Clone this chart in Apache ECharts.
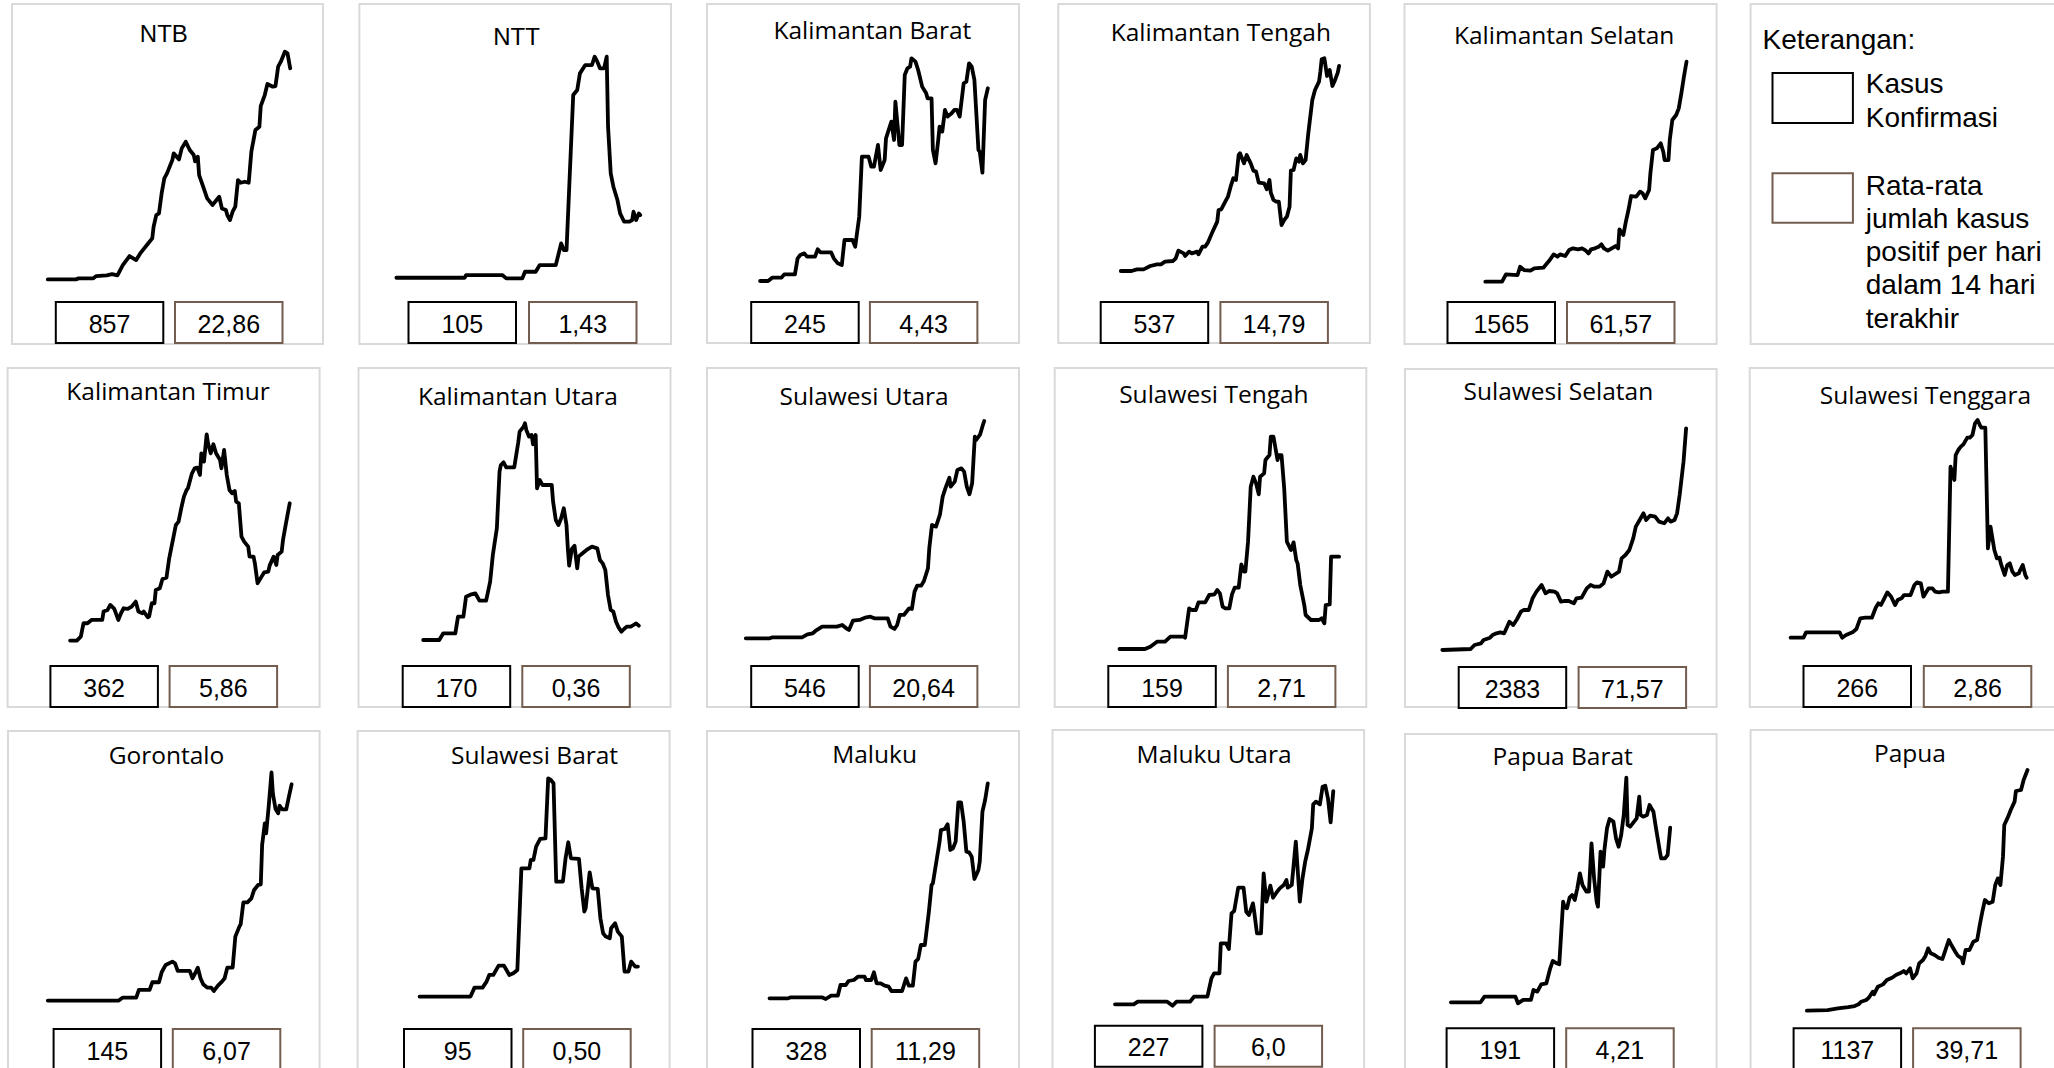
<!DOCTYPE html>
<html><head><meta charset="utf-8">
<script src="https://cdn.jsdelivr.net/npm/echarts/dist/echarts.min.js"></script>
<style>html,body{margin:0;padding:0;background:#fff;overflow:hidden}#c{width:2054px;height:1068px}</style>
</head><body><div id="c"></div>
<script>
// ---------- DATA ----------
const provinces = ['NTB','NTT','Kalimantan Barat','Kalimantan Tengah','Kalimantan Selatan','Kalimantan Timur','Kalimantan Utara','Sulawesi Utara','Sulawesi Tengah','Sulawesi Selatan','Sulawesi Tenggara','Gorontalo','Sulawesi Barat','Maluku','Maluku Utara','Papua Barat','Papua'];
const kasusKonfirmasi = [857,105,245,537,1565,362,170,546,159,2383,266,145,95,328,227,191,1137];
const rataRata = ['22,86','1,43','4,43','14,79','61,57','5,86','0,36','20,64','2,71','71,57','2,86','6,07','0,50','11,29','6,0','4,21','39,71'];

// [day, value]
const ntb = [[0,0],[21,0],[23,0.3],[34,0.3],[36,1.0],[44,1.2],[48,1.6],[52,1.2],[56,4.3],[61,7.0],[66,5.8],[69,7.8],[74,10.3],[78,12.3],[79,15.8],[81,19.3],[83,19.8],[85,25.8],[87,30.3],[89,31.8],[93,35.8],[94,37.8],[98,36.0],[100,39.3],[103,41.3],[106,38.8],[109,37.3],[110,35.4],[112,36.8],[113,31.3],[116,27.8],[119,24.3],[123,22.3],[126,23.8],[128,24.8],[130,21.3],[133,20.8],[134,19.3],[136,17.8],[138,20.3],[140,21.8],[142,29.8],[144,29.0],[147,29.3],[150,29.0],[152,38.3],[155,44.8],[158,45.8],[159,52.0],[162,55.3],[164,58.6],[168,57.8],[170,58.0],[172,63.8],[174,65.3],[177,68.3],[179,67.8],[181,63.3]];
const ntt = [[0,0.2],[51,0.2],[52,1.0],[79,1.0],[82,0],[94,0],[96,2.0],[104,2.0],[107,4.0],[119,4.0],[123,10.5],[125,8.5],[127,8.5],[130,36.5],[132,55.0],[135,56.5],[137,61.5],[141,64.0],[146,64.0],[148,66.5],[150,65.0],[152,63.0],[155,63.0],[157,66.5],[158,45.5],[160,31.5],[162,27.5],[165,23.5],[167,19.5],[170,17.0],[174,17.0],[176,17.5],[177,20.0],[179,17.5],[181,19.5],[182,19.0]];
const kalbar = [[0,0],[6,0],[9,1.0],[16,1.0],[18,2.0],[26,2.0],[28,6.8],[30,7.8],[33,8.3],[35,7.3],[41,7.3],[43,9.5],[45,8.6],[53,8.6],[55,6.8],[58,5.3],[61,4.8],[63,12.3],[69,12.3],[71,10.3],[74,19.3],[76,37.3],[81,37.3],[83,34.3],[85,34.3],[88,40.8],[90,33.3],[93,36.3],[94,42.8],[98,47.8],[100,42.3],[101,53.8],[104,40.8],[106,40.8],[108,61.8],[110,63.8],[112,64.3],[113,66.8],[116,65.8],[118,63.3],[121,58.3],[124,56.3],[125,54.8],[128,54.8],[129,39.3],[131,35.3],[133,42.3],[134,46.3],[136,44.8],[138,51.3],[140,49.3],[143,50.3],[145,51.3],[147,51.3],[149,49.3],[152,59.3],[154,59.8],[156,65.3],[158,64.3],[160,60.3],[163,39.3],[164,38.8],[166,32.5],[168,54.3],[170,57.8]];
const kalteng = [[0,0],[8,0],[12,0.5],[17,0.5],[22,1.5],[27,2.0],[30,2.0],[33,2.8],[39,3.0],[41,3.8],[43,6.1],[47,5.3],[48,4.5],[51,5.8],[53,5.3],[57,5.8],[58,5.0],[61,7.3],[63,7.3],[65,8.5],[68,11.3],[72,14.8],[73,18.3],[75,18.5],[78,20.8],[80,22.3],[82,25.3],[84,27.8],[86,27.3],[88,34.8],[89,35.3],[92,32.3],[94,34.8],[97,32.3],[99,30.1],[101,29.8],[103,26.5],[107,26.3],[109,24.5],[111,27.3],[112,23.5],[114,21.3],[116,20.8],[118,20.8],[120,13.8],[122,15.3],[124,16.3],[126,19.3],[127,30.1],[129,30.3],[131,33.8],[133,32.8],[134,34.8],[136,32.3],[138,33.3],[140,41.3],[143,51.3],[145,54.3],[148,56.8],[149,59.8],[150,63.5],[152,63.8],[154,58.5],[156,60.3],[158,55.5],[160,57.3],[162,59.5],[163,61.5]];
const kalsel = [[0,0],[13,0],[16,2.2],[25,2.0],[27,4.5],[30,3.5],[35,3.3],[38,4.0],[45,4.2],[50,6.5],[53,8.2],[56,7.5],[58,8.2],[62,7.7],[65,9.5],[68,10.0],[72,9.7],[75,10.0],[78,9.3],[80,8.5],[82,9.7],[85,10.0],[88,10.5],[90,11.2],[92,10.0],[95,9.3],[98,10.0],[101,10.7],[103,10.0],[104,15.7],[107,14.0],[109,18.0],[111,21.5],[113,25.7],[117,25.5],[120,27.0],[122,26.5],[124,25.0],[127,27.5],[128,32.5],[130,39.5],[133,40.0],[136,41.5],[138,39.0],[139,36.5],[142,36.5],[143,42.5],[145,48.5],[148,50.0],[150,52.0],[152,56.5],[154,61.5],[156,66.0]];
const kaltim = [[0,0],[5,0],[8,1.2],[10,5.2],[13,5.2],[16,6.2],[24,6.2],[25,8.7],[28,9.2],[30,10.7],[33,9.5],[36,6.2],[38,8.2],[40,9.7],[43,9.5],[46,10.2],[49,11.7],[51,8.7],[54,8.2],[55,8.7],[58,7.0],[59,7.2],[61,11.2],[63,11.2],[64,15.2],[67,15.7],[69,18.5],[72,18.9],[74,24.7],[77,30.7],[79,34.7],[81,35.7],[83,39.7],[85,43.2],[87,45.2],[88,45.7],[91,50.2],[93,51.7],[95,51.9],[97,49.7],[98,56.2],[100,53.7],[102,61.9],[103,59.2],[105,56.2],[107,58.9],[109,56.2],[112,54.2],[113,51.7],[115,57.2],[117,49.7],[119,45.2],[121,44.2],[123,44.9],[124,41.7],[126,41.2],[128,31.2],[130,29.7],[133,28.2],[134,25.2],[137,25.2],[138,23.2],[140,17.2],[143,19.2],[145,20.5],[148,20.7],[149,22.5],[152,25.2],[154,22.7],[155,25.7],[158,26.7],[159,30.2],[161,34.7],[164,41.2]];
const kalut = [[0,0],[12,0],[15,2.0],[24,2.0],[26,7.0],[30,7.0],[32,13.0],[36,13.7],[39,14.0],[42,11.8],[47,11.8],[50,17.5],[52,25.5],[55,33.5],[57,50.5],[58,52.5],[60,53.3],[62,51.8],[68,51.8],[71,59.3],[72,62.5],[75,64.0],[76,65.0],[77,63.0],[79,61.0],[81,61.5],[82,58.7],[84,61.5],[85,45.5],[87,48.0],[89,46.5],[96,46.5],[97,41.5],[99,36.0],[101,34.5],[103,36.5],[105,39.5],[107,34.5],[108,27.5],[109,22.3],[111,27.3],[113,28.3],[115,21.5],[116,25.0],[119,26.0],[122,27.0],[126,28.0],[130,27.5],[132,24.0],[134,23.0],[136,21.0],[138,13.5],[140,9.0],[142,8.5],[144,5.5],[146,3.7],[148,2.5],[150,3.3],[152,4.0],[155,4.0],[157,4.5],[159,5.0],[161,4.3]];
const sulut = [[0,0],[18,0],[20,0.3],[42,0.3],[46,1.2],[50,1.5],[52,2.2],[57,3.5],[68,3.5],[72,4.0],[75,3.0],[77,2.5],[80,5.3],[85,5.5],[88,6.0],[90,6.3],[93,6.5],[96,6.0],[106,6.0],[108,3.5],[111,2.8],[113,4.0],[115,7.0],[118,7.0],[122,9.0],[124,8.8],[126,14.0],[128,15.8],[131,15.8],[133,17.2],[136,21.0],[137,27.0],[139,34.0],[142,33.5],[145,37.2],[147,42.5],[149,45.0],[152,48.2],[153,45.5],[156,47.0],[158,50.5],[161,51.0],[163,50.0],[165,45.5],[167,43.2],[169,46.5],[171,60.5],[172,59.5],[175,61.2],[177,64.0],[178,65.2]];
const sulteng = [[0,0],[19,0],[23,0.7],[28,2.2],[34,2.2],[38,3.7],[48,3.7],[49,3.4],[52,12.2],[54,11.7],[57,11.7],[59,14.0],[64,14.0],[67,16.2],[71,16.4],[73,17.7],[75,16.7],[77,12.7],[79,12.2],[82,12.2],[84,16.4],[86,18.4],[89,18.4],[91,25.4],[93,23.2],[94,23.2],[96,32.2],[98,48.7],[100,51.7],[102,49.7],[104,46.4],[105,51.7],[108,52.7],[109,56.7],[112,58.2],[113,63.7],[115,63.7],[118,56.7],[119,58.2],[121,58.2],[123,48.2],[125,32.2],[128,29.7],[130,32.0],[132,26.7],[133,25.7],[135,19.2],[138,13.2],[139,10.2],[143,8.7],[149,8.7],[151,9.2],[153,7.7],[154,13.2],[157,13.4],[158,27.7],[164,27.7]];
const sulsel = [[0,0],[22,0.3],[25,1.5],[30,2.0],[32,3.0],[37,3.7],[39,4.5],[42,5.0],[45,5.3],[48,5.0],[52,8.5],[55,7.5],[58,9.3],[61,11.5],[63,12.0],[67,12.0],[70,15.5],[73,17.5],[77,19.5],[80,17.0],[83,17.7],[87,17.5],[89,17.0],[92,14.5],[95,14.7],[98,14.7],[102,14.0],[104,15.5],[108,15.7],[112,18.5],[115,19.5],[118,19.0],[122,19.0],[125,20.0],[128,23.5],[131,22.0],[133,22.5],[137,23.5],[139,27.5],[142,28.5],[145,30.0],[148,33.5],[150,37.0],[153,39.0],[156,41.0],[158,39.0],[161,40.3],[165,40.0],[168,38.5],[172,38.0],[175,39.5],[177,38.5],[180,39.0],[182,41.0],[184,46.5],[187,56.5],[189,66.5]];
const sultra = [[0,0],[10,0],[12,1.6],[38,1.6],[40,0],[43,0.8],[48,1.6],[51,2.6],[54,5.8],[58,6.0],[63,6.0],[66,9.0],[68,10.3],[70,9.8],[72,11.3],[75,13.6],[78,12.3],[81,9.8],[83,11.3],[86,11.8],[88,12.8],[93,12.8],[96,15.8],[98,16.6],[101,16.3],[103,12.3],[107,14.8],[110,14.8],[112,13.8],[115,13.6],[118,13.8],[122,13.8],[124,51.3],[127,47.3],[128,54.8],[130,56.3],[132,57.3],[134,58.0],[137,60.0],[139,60.0],[141,60.8],[143,64.3],[145,65.3],[147,63.6],[148,63.0],[151,63.0],[153,26.8],[155,33.3],[158,26.3],[160,23.8],[162,24.0],[163,22.3],[166,18.8],[168,21.8],[170,22.3],[172,19.8],[174,18.8],[177,19.3],[178,20.3],[180,21.8],[182,18.8],[183,18.0]];
const gorontalo = [[0,0],[53,0],[56,0.9],[66,0.9],[68,3.2],[76,3.2],[78,5.5],[83,5.5],[85,8.5],[88,10.7],[93,11.7],[95,11.2],[97,8.9],[106,8.9],[108,6.7],[110,8.2],[112,9.9],[114,6.7],[116,4.9],[119,3.9],[122,3.9],[124,2.9],[127,4.5],[130,5.7],[132,6.7],[134,9.9],[138,9.9],[140,19.2],[143,22.2],[144,22.9],[146,29.5],[149,29.5],[152,30.7],[154,33.2],[157,34.7],[159,34.9],[160,46.7],[162,53.2],[163,50.2],[165,58.7],[167,68.5],[168,62.2],[170,57.5],[172,56.2],[173,58.5],[175,57.4],[178,57.4],[180,61.2],[182,64.9]];
const sulbar = [[0,0],[38,0],[41,2.7],[47,2.7],[50,4.5],[52,6.5],[55,6.5],[59,9.3],[63,9.3],[67,6.5],[70,7.0],[73,8.0],[76,38.5],[82,38.5],[83,41.0],[85,41.0],[87,45.0],[90,47.3],[94,47.5],[96,65.5],[98,65.0],[100,64.0],[102,34.5],[107,34.5],[109,41.5],[111,46.3],[113,41.5],[119,41.3],[121,32.5],[123,25.5],[124,26.5],[127,37.3],[129,32.5],[133,32.3],[135,23.5],[137,19.0],[139,18.0],[142,17.5],[143,20.5],[146,22.0],[148,19.5],[151,18.0],[153,7.5],[156,7.5],[158,10.5],[161,9.0],[163,9.0]];
const maluku = [[0,0.2],[14,0.2],[16,0.5],[39,0.5],[42,0],[46,1.0],[51,1.0],[53,4.2],[57,4.2],[59,5.4],[63,5.7],[66,6.7],[71,6.7],[72,5.7],[76,5.7],[78,8.0],[80,4.7],[83,4.7],[86,4.0],[89,3.7],[91,2.4],[99,2.4],[102,6.2],[104,4.0],[107,4.0],[109,11.2],[111,12.0],[113,16.2],[116,16.2],[119,26.2],[121,34.2],[122,34.7],[125,42.2],[127,47.2],[128,50.7],[131,51.0],[133,52.4],[135,44.7],[137,45.2],[139,47.2],[141,59.0],[143,59.0],[145,53.2],[147,44.2],[149,44.0],[151,42.7],[153,36.0],[156,38.7],[157,41.2],[159,56.2],[161,59.7],[163,64.7]];
const malut = [[0,0.4],[14,0.4],[17,1.2],[39,1.2],[43,0],[46,1.2],[56,1.2],[59,2.7],[69,2.7],[72,8.2],[74,9.7],[78,9.7],[79,18.7],[83,18.7],[85,17.0],[87,27.7],[89,28.4],[92,35.4],[96,35.4],[98,28.2],[100,27.2],[103,30.7],[104,28.0],[106,21.7],[109,21.7],[111,39.7],[113,31.2],[116,36.0],[118,32.4],[121,34.2],[123,35.2],[126,36.2],[128,37.7],[129,35.4],[132,36.2],[135,49.2],[138,31.2],[140,38.2],[142,43.2],[144,46.7],[147,53.2],[148,60.4],[150,61.2],[153,60.4],[155,65.7],[157,66.0],[159,62.2],[161,55.0],[163,64.4]];
const papbar = [[0,0.3],[23,0.3],[26,2.0],[50,2.0],[52,0],[56,1.0],[62,1.0],[64,4.0],[67,3.5],[70,5.7],[74,6.0],[77,10.5],[79,12.7],[82,12.0],[84,11.7],[87,30.5],[88,29.0],[90,28.5],[92,31.7],[94,32.5],[96,31.0],[98,34.5],[100,39.0],[102,35.5],[105,33.5],[107,33.5],[109,48.0],[111,37.5],[113,30.5],[114,29.0],[116,45.5],[118,41.0],[119,46.0],[121,52.5],[123,55.3],[126,54.5],[128,49.5],[130,47.0],[132,50.5],[134,56.5],[136,67.7],[137,53.5],[139,53.0],[142,54.5],[144,55.5],[146,62.0],[147,56.5],[149,56.0],[152,56.5],[154,59.5],[157,57.5],[159,52.5],[162,45.5],[163,43.5],[166,43.5],[168,44.5],[170,52.7]];
const papua = [[0,0],[16,0.2],[24,0.7],[32,1.1],[37,1.4],[40,1.9],[42,2.7],[46,3.2],[48,3.9],[51,5.7],[52,4.9],[55,7.2],[59,7.9],[62,9.2],[66,9.9],[69,10.7],[72,11.2],[75,11.9],[77,11.2],[80,12.7],[82,9.7],[85,11.2],[87,14.2],[90,15.2],[92,16.5],[94,18.7],[96,17.2],[99,16.7],[102,15.9],[105,15.5],[107,17.7],[110,21.2],[112,19.7],[115,17.7],[117,16.5],[120,15.7],[121,14.2],[123,18.2],[126,18.2],[129,20.7],[132,21.2],[134,25.7],[136,29.7],[138,33.2],[141,32.2],[144,32.7],[146,37.7],[148,39.7],[150,37.7],[152,46.2],[153,55.7],[156,58.2],[158,60.2],[161,62.7],[162,65.9],[166,66.2],[168,69.2],[171,72.2]];

const seriesData = [ntb,ntt,kalbar,kalteng,kalsel,kaltim,kalut,sulut,sulteng,sulsel,sultra,gorontalo,sulbar,maluku,malut,papbar,papua];

// ---------- LAYOUT (positions only) ----------
const gridRects = [
 [47.8,51.7,242.4,227.7],[396.4,56.7,243.8,221.7],[760.1,58.3,227.7,222.7],[1120.8,58.3,218.3,212.7],[1485.3,61.7,201.2,220],
 [70.1,434.3,219.6,206.3],[423.2,423.3,215.6,216.7],[745.8,421,238.4,217.3],[1119.5,436.7,219.6,212.3],[1442.3,428.3,243.8,221.7],[1790.6,420,236,217.7],
 [47.8,772.3,243.8,228.3],[419.6,778.3,218.3,218.3],[769.5,783.3,218.3,215.7],[1115,785.7,218.3,220],[1450.9,777.7,219.3,225.6],[1806.9,770,220.6,240.7]
];
const panelRects = [
 [12,4,311,340],[359.4,4,311.6,340],[707,4,312,339],[1058.3,4,311.6,339],[1404.5,4,312.1,340],[1750.6,4,400,340],
 [7.6,368,312,339],[358.5,368,312,339],[707,368,312,339],[1054.7,368,311.6,339],[1405,369,311.6,338],[1749.7,368,400,339],
 [8,731,311.6,400],[357.6,731,312,400],[707,731,312,400],[1052.5,730,311.6,400],[1405,734,311.6,400],[1750.6,730,400,400]
];
const titlePos = [[163.8,33.5],[516.5,36.8],[872.4,29],[1220.8,31],[1564.2,34],[168.1,390],[517.9,395],[864.1,395],[1213.9,393.5],[1558.4,390],[1925.4,394],[166.5,754],[534.6,754],[874.6,753],[1214.1,753],[1562.7,755],[1909.9,752]];
const boxPos = [[55.8,175,302],[408.5,529,302],[751.2,869.9,302],[1100.7,1220.4,302],[1447.5,1567,302],
 [50.4,169.6,666],[402.7,522.3,666],[751.2,869.9,666],[1108.3,1227.9,666],[1458.7,1578.6,667],[1803.5,1923.8,666],
 [53.6,172.8,1029],[404,523.2,1029],[752.5,871.7,1029],[1094.9,1214.6,1025.7],[1446.6,1566.2,1028.3],[1793.6,1913.1,1028.3]];
const BOX_W = 107.5, BOX_H = 41;
const BROWN = '#735d4f';
const ARIAL = '"Liberation Sans", Arial, sans-serif';
const TITLEFONT = '"Open Sans", sans-serif';

const chart = echarts.init(document.getElementById('c'), null, {renderer:'svg'});

const grid = [], xAxis = [], yAxis = [], series = [], graphic = [];
function txt(x, y, text, font, align, z) {
  return {type:'text', z: z||20, style:{x:x, y:y, text:text, font:font, fill:'#000',
    textAlign: align||'center', textVerticalAlign:'middle', align: align||'center', verticalAlign:'middle'}};
}
panelRects.forEach(p => graphic.push({type:'rect', z:0, shape:{x:p[0], y:p[1], width:p[2], height:p[3]},
  style:{fill:'#fff', stroke:'#d9d9d9', lineWidth:2}}));

seriesData.forEach((d, i) => {
  const g = gridRects[i];
  grid.push({left:g[0], top:g[1], width:g[2], height:g[3], containLabel:false});
  xAxis.push({type:'value', gridIndex:i, min:0, max:'dataMax', show:false});
  yAxis.push({type:'value', gridIndex:i, min:0, max:'dataMax', show:false});
  series.push({type:'line', xAxisIndex:i, yAxisIndex:i, data:d, symbol:'none', clip:false, silent:true,
    lineStyle:{color:'#000', width:3.8, join:'round', cap:'round'}, z:5});
  const t = titlePos[i];
  const arialTitle = i < 2;
  graphic.push(txt(t[0], t[1], provinces[i], arialTitle ? '24px ' + ARIAL : '24.5px ' + TITLEFONT));
  const b = boxPos[i];
  graphic.push({type:'rect', z:15, shape:{x:b[0], y:b[2], width:BOX_W, height:BOX_H}, style:{fill:'#fff', stroke:'#000', lineWidth:2}});
  graphic.push({type:'rect', z:15, shape:{x:b[1], y:b[2], width:BOX_W, height:BOX_H}, style:{fill:'#fff', stroke:BROWN, lineWidth:2}});
  graphic.push(txt(b[0] + BOX_W/2, b[2] + BOX_H/2 + 1, String(kasusKonfirmasi[i]), '25px ' + ARIAL));
  graphic.push(txt(b[1] + BOX_W/2, b[2] + BOX_H/2 + 1, rataRata[i], '25px ' + ARIAL));
});

// legend panel
const legendFont = '28px ' + ARIAL;
graphic.push(txt(1762.6, 39, 'Keterangan:', legendFont, 'left'));
graphic.push({type:'rect', z:15, shape:{x:1772.5, y:73, width:80.4, height:50}, style:{fill:'#fff', stroke:'#000', lineWidth:2}});
graphic.push({type:'rect', z:15, shape:{x:1772.5, y:173.3, width:80.4, height:49.4}, style:{fill:'#fff', stroke:BROWN, lineWidth:2}});
const legendLines1 = ['Kasus','Konfirmasi'];
const legendLines2 = ['Rata-rata','jumlah kasus','positif per hari','dalam 14 hari','terakhir'];
legendLines1.forEach((s, k) => graphic.push(txt(1865.8, 83 + k*34, s, legendFont, 'left')));
legendLines2.forEach((s, k) => graphic.push(txt(1865.8, 185 + k*33.3, s, legendFont, 'left')));

chart.setOption({
  animation:false,
  backgroundColor:'#fff',
  grid, xAxis, yAxis, series, graphic
});
</script></body></html>
